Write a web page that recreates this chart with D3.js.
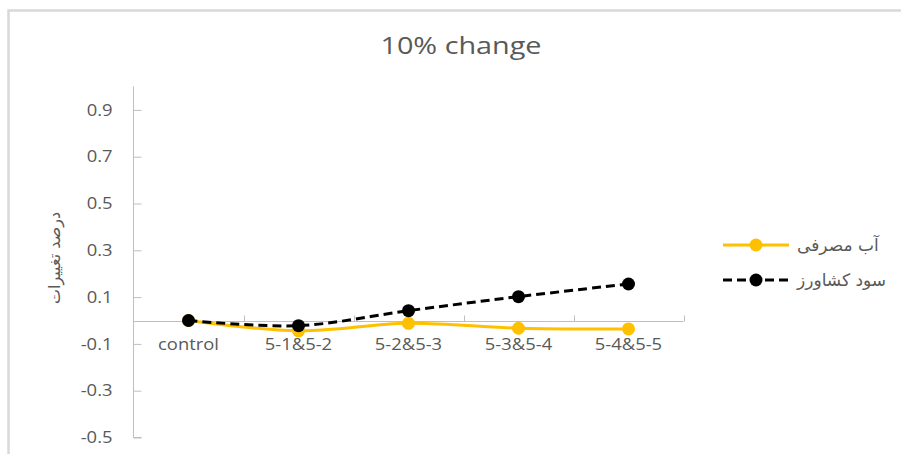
<!DOCTYPE html>
<html>
<head>
<meta charset="utf-8">
<script src="https://cdn.jsdelivr.net/npm/d3@7"></script>
<style>
  html, body { margin: 0; padding: 0; background: #fff; }
  svg { display: block; }
</style>
</head>
<body>
<svg id="chart" width="901" height="454"></svg>
<script>
// Category labels along the horizontal axis
const categories = ["control", "5-1&5-2", "5-2&5-3", "5-3&5-4", "5-4&5-5"];
// Percent change of water use (آب مصرفی)
const waterUse = [0, -0.044, -0.012, -0.033, -0.036];
// Percent change of farmer profit (سود کشاورز)
const farmerProfit = [0, -0.022, 0.042, 0.102, 0.156];
// Vertical axis tick values
const yTicks = [-0.5, -0.3, -0.1, 0.1, 0.3, 0.5, 0.7, 0.9];
const seriesNames = ["آب مصرفی", "سود کشاورز"];
const chartTitle = "10% change";
const yTitle = "درصد تغییرات";

const svg = d3.select("#chart");
const textColor = "#595959";
const axisColor = "#bfbfbf";
const latin = "'Open Sans', 'Liberation Sans', sans-serif";
const arabic = "'DejaVu Sans', sans-serif";

// widen a text element horizontally around its anchor x
const stretch = (cx, k) => `translate(${cx},0) scale(${k},1) translate(${-cx},0)`;

// outer chart frame
svg.append("rect")
  .attr("x", 8.5).attr("y", 10.5)
  .attr("width", 940).attr("height", 480)
  .attr("fill", "none")
  .attr("stroke", "#d9d9d9")
  .attr("stroke-width", 2.5);

const plot = { left: 133.5, right: 683.5, top: 86.5, bottom: 437.5 };

const x = d3.scaleBand().domain(categories).range([plot.left, plot.right]);
const y = d3.scaleLinear().domain([-0.5, 1.0]).range([plot.bottom, plot.top]);

// title
svg.append("text")
  .attr("x", 461).attr("y", 54)
  .attr("text-anchor", "middle")
  .attr("font-family", latin)
  .attr("font-size", 24)
  .attr("fill", textColor)
  .attr("transform", stretch(461, 1.2))
  .text(chartTitle);

// vertical axis
const yAxis = svg.append("g").attr("transform", `translate(${plot.left},0)`)
  .call(d3.axisRight(y).tickValues(yTicks).tickSize(8).tickFormat(d => d.toFixed(1)));
yAxis.select(".domain").attr("stroke", axisColor).attr("d", `M0,${plot.top}V${plot.bottom}H8`);
yAxis.selectAll(".tick line").attr("stroke", axisColor);
yAxis.selectAll(".tick text")
  .attr("x", -21)
  .attr("text-anchor", "end")
  .attr("font-family", latin)
  .attr("font-size", 16)
  .attr("fill", textColor)
  .attr("transform", stretch(-21, 1.15));

// horizontal axis at zero with upward boundary ticks
const y0 = Math.round(y(0)) + 0.5;
const xAxis = svg.append("g");
xAxis.append("line")
  .attr("x1", plot.left).attr("x2", plot.right)
  .attr("y1", y0).attr("y2", y0)
  .attr("stroke", axisColor);
xAxis.selectAll("line.tk")
  .data(categories)
  .join("line")
  .attr("class", "tk")
  .attr("x1", d => Math.round(x(d) + x.bandwidth()) + 0.5)
  .attr("x2", d => Math.round(x(d) + x.bandwidth()) + 0.5)
  .attr("y1", y0).attr("y2", y0 - 6)
  .attr("stroke", axisColor);
xAxis.selectAll("text")
  .data(categories)
  .join("text")
  .attr("x", d => x(d) + x.bandwidth() / 2)
  .attr("y", y0 + 29)
  .attr("text-anchor", "middle")
  .attr("font-family", latin)
  .attr("font-size", 16)
  .attr("fill", textColor)
  .attr("transform", d => stretch(x(d) + x.bandwidth() / 2, 1.15))
  .text(d => d);

// vertical axis title
svg.append("text")
  .attr("transform", "translate(60,258) rotate(-90)")
  .attr("text-anchor", "middle")
  .attr("font-family", arabic)
  .attr("font-size", 16)
  .attr("fill", textColor)
  .text(yTitle);

// series
const series = [
  { name: seriesNames[0], values: waterUse, color: "#ffc000", dash: null },
  { name: seriesNames[1], values: farmerProfit, color: "#000000", dash: "9,5" }
];

const line = d3.line()
  .x((d, i) => x(categories[i]) + x.bandwidth() / 2)
  .y(d => y(d))
  .curve(d3.curveCatmullRom);

series.forEach(s => {
  const g = svg.append("g");
  g.append("path")
    .attr("d", line(s.values))
    .attr("fill", "none")
    .attr("stroke", s.color)
    .attr("stroke-width", 3)
    .attr("stroke-dasharray", s.dash);
  g.selectAll("circle")
    .data(s.values)
    .join("circle")
    .attr("cx", (d, i) => x(categories[i]) + x.bandwidth() / 2)
    .attr("cy", d => y(d))
    .attr("r", 6.5)
    .attr("fill", s.color);
});

// legend
const legend = svg.append("g");
series.forEach((s, i) => {
  const ly = 245 + i * 35;
  legend.append("line")
    .attr("x1", 723).attr("x2", 789)
    .attr("y1", ly).attr("y2", ly)
    .attr("stroke", s.color)
    .attr("stroke-width", 3)
    .attr("stroke-dasharray", s.dash);
  legend.append("circle")
    .attr("cx", 756).attr("cy", ly).attr("r", 6.5)
    .attr("fill", s.color);
  legend.append("text")
    .attr("x", 797).attr("y", ly + 6)
    .attr("font-family", arabic)
    .attr("font-size", 17)
    .attr("fill", textColor)
    .text(s.name);
});
</script>
</body>
</html>
